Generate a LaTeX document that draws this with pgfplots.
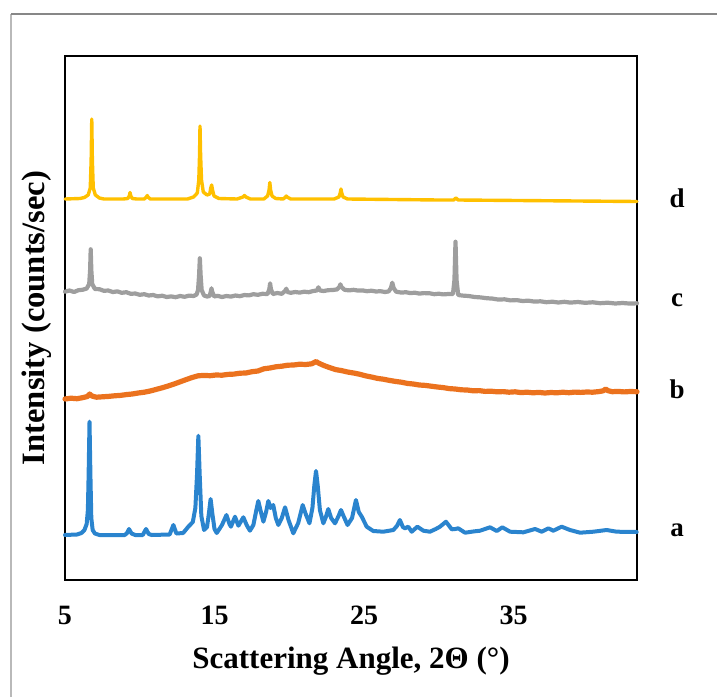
\documentclass[border=0pt]{standalone}
\usepackage{fontspec}
\setmainfont{Liberation Serif}
\usepackage{pgfplots}
\pgfplotsset{compat=1.18}
\definecolor{xyellow}{RGB}{255,192,0}
\definecolor{xgray}{RGB}{158,158,158}
\definecolor{xorange}{RGB}{235,114,30}
\definecolor{xblue}{RGB}{42,132,206}
\begin{document}
\begin{tikzpicture}
\useasboundingbox (-32.5pt,-58.5pt) rectangle (326pt,290pt);
\draw[color={rgb,255:red,185;green,185;blue,185}, line width=0.6pt] (-27pt,-58.5pt) -- (-27pt,283pt);
\draw[color={rgb,255:red,135;green,135;blue,135}, line width=1pt] (-27pt,283pt) -- (326pt,283pt);
\begin{axis}[
  at={(0,0)}, anchor=south west,
  scale only axis, width=286pt, height=262pt,
  xmin=5, xmax=43.26, ymin=0, ymax=524,
  xtick={5,15,25,35}, ytick=\empty,
  xtick style={draw=none},
  axis line style={line width=1pt},
  /pgf/number format/assume math mode=true,
  xticklabel style={font=\fontsize{14}{16}\selectfont\bfseries, anchor=base, yshift=-22pt},
  xlabel={Scattering Angle, 2Θ (°)},
  ylabel={Intensity (counts/sec)},
  xlabel style={at={(axis description cs:0.5,-0.168)}, anchor=base, font=\fontsize{15.5}{18}\selectfont\bfseries},
  ylabel style={at={(axis description cs:-0.035,0.5)}, anchor=base, font=\fontsize{16.3}{18}\selectfont\bfseries},
  clip=false,
  every axis plot/.append style={line join=round, line cap=round},
]
% a
\addplot[xblue, line width=2pt] coordinates {
(5.0,45) (5.8,45.5) (6.1,47) (6.3,50) (6.45,56) (6.53,70) (6.58,105) (6.64,158.3) (6.7,105) (6.76,62) (6.85,50) (7.0,46.5) (7.3,45)
(9.0,45) (9.15,47) (9.28,51) (9.45,46.5) (9.7,45) (10.2,45) (10.42,51) (10.6,46) (10.8,45)
(12.0,45.5) (12.25,55) (12.45,46.5) (12.9,47) (13.25,53.3) (13.55,58)
(13.72,72) (13.83,105) (13.92,144.3) (14.01,105) (14.12,64) (14.3,50) (14.5,53) (14.62,66) (14.74,81) (14.86,66) (15.0,51) (15.15,47)
(15.5,55) (15.8,65) (16.0,56) (16.1,53.3) (16.37,63.3) (16.6,54.3) (16.93,62.7) (17.15,55) (17.37,49.3)
(17.6,55) (17.8,70) (17.93,79) (18.07,70) (18.27,58.3) (18.45,68) (18.6,79) (18.75,72) (18.93,75) (19.1,62) (19.27,55)
(19.5,62) (19.72,72.7) (19.95,60) (20.27,46.7) (20.6,57) (20.9,75) (21.1,66) (21.35,56.7) (21.55,72) (21.68,95) (21.79,109)
(21.9,95) (22.05,70) (22.28,56.7) (22.45,63) (22.61,71) (22.8,62) (23.06,56.7) (23.3,64) (23.46,70) (23.6,65) (23.9,55)
(24.2,62) (24.46,80) (24.65,68) (24.85,63.3) (25.18,53.3) (25.62,49) (26.29,48.3) (26.96,50) (27.2,54) (27.4,60) (27.6,53)
(27.74,51.7) (27.96,53.3) (28.19,48.3) (28.57,53.3) (28.97,49.3) (29.41,48.3) (29.8,51) (30.08,53.3) (30.48,58.3) (30.87,50.7)
(31.1,51) (31.3,51.7) (31.76,47.3) (32.3,48.5) (32.76,49.3) (33.43,52.7) (33.88,49) (34.25,52.7) (34.77,48.3) (35.66,47.7)
(36.44,51) (36.89,48.3) (37.33,51.7) (37.66,49.3) (38.22,53.3) (38.78,50) (39.45,47.3) (40.34,48.3) (41.23,50) (41.9,48.3) (43.24,48)
};
% b
\addplot[xorange, line width=2.6pt] coordinates {
(5.0,181) (5.4,181.8) (5.8,181.3) (6.2,182.4) (6.5,183.5) (6.65,186) (6.8,184) (7.1,182.8) (7.5,183.2) (7.9,183.6) (8.3,184.2)
(8.7,184.6) (9.1,185.4) (9.5,186) (9.9,187) (10.3,187.8) (10.7,189) (11.1,190.6) (11.5,192.2) (11.9,194) (12.3,196) (12.7,198.2)
(13.1,200.4) (13.5,202.5) (13.9,204.2) (14.3,204.6) (14.7,204.3) (15.1,205.0) (15.5,204.8) (15.9,205.6) (16.3,205.9) (16.7,206.8)
(17.1,207.0) (17.5,208.3) (17.9,209.0) (18.3,211.2) (18.7,212.0) (19.1,213.2) (19.5,213.8) (19.9,214.8) (20.3,215.0) (20.7,215.8)
(21.1,215.5) (21.5,216.2) (21.8,218.5) (21.95,217) (22.3,214.6) (22.7,212.4) (23.1,210.4) (23.5,209.4) (23.9,208.0) (24.3,207.0)
(24.7,205.8) (25.1,204.2) (25.5,203.0) (25.9,201.6) (26.3,200.8) (26.7,199.6) (27.1,198.6) (27.5,197.8) (27.9,196.6) (28.3,196.0)
(28.7,195.0) (29.1,194.6) (29.5,193.8) (29.9,193.0) (30.3,192.4) (30.7,191.4) (31.1,191.0) (31.5,190.2) (31.9,190.0) (32.3,189.2)
(32.7,189.4) (33.1,188.6) (33.5,188.8) (33.9,188.2) (34.3,188.4) (34.7,187.8) (35.1,188.2) (35.5,187.4) (35.9,187.8) (36.3,187.2)
(36.7,187.6) (37.1,187.0) (37.5,187.5) (37.9,187.2) (38.3,187.8) (38.7,187.3) (39.1,187.9) (39.5,187.6) (39.9,188.0) (40.3,187.8)
(40.7,188.4) (41.0,189.2) (41.17,191) (41.3,189.4) (41.6,188.3) (42.0,188.6) (42.4,188.1) (42.8,188.5) (43.26,188.3)
};
% c
\addplot[xgray, line width=2.1pt] coordinates {
(5.0,288.3) (5.3,289.5) (5.6,288.0) (5.9,289.8) (6.2,290.3) (6.45,291.5) (6.62,296) (6.68,310) (6.72,330.7) (6.76,310) (6.82,296)
(7.0,291) (7.3,290.8) (7.6,289.2) (7.9,289.5) (8.2,288.0) (8.5,288.6) (8.8,287.2) (9.1,287.8) (9.4,286.2) (9.7,286.5) (10.0,285.2)
(10.3,285.8) (10.6,284.5) (10.9,285.0) (11.2,283.6) (11.5,284.3) (11.8,283.0) (12.1,283.6) (12.4,282.8) (12.7,284.0) (13.0,283.2)
(13.3,284.4) (13.6,284.0) (13.8,285.5) (13.9,290) (13.97,305) (14.02,321.7) (14.07,305) (14.14,290) (14.3,284.5) (14.5,283.5)
(14.68,284) (14.76,289) (14.8,291.7) (14.85,288) (14.98,283.5) (15.2,284.2) (15.5,283.0) (15.8,284.0) (16.1,283.4) (16.4,284.5)
(16.7,283.8) (17.0,285.0) (17.3,284.6) (17.6,285.8) (17.9,285.2) (18.2,286.2) (18.55,286.0) (18.67,291) (18.72,296.7) (18.77,291)
(18.9,286) (19.2,287) (19.5,286.2) (19.72,289) (19.8,291.3) (19.88,288) (20.1,287.2) (20.4,288.0) (20.7,287.4) (21.0,288.3)
(21.3,287.8) (21.6,289.0) (21.85,289.5) (21.95,292.7) (22.05,289.5) (22.3,289.0) (22.6,289.8) (22.9,290.0) (23.2,290.6) (23.35,293)
(23.42,295.7) (23.49,293) (23.7,290.2) (24.0,289.6) (24.3,290.2) (24.6,289.4) (24.9,289.6) (25.2,288.8) (25.5,289.3) (25.8,288.5)
(26.1,288.8) (26.4,288.0) (26.65,288.6) (26.8,292) (26.89,297.3) (26.98,292) (27.15,288.3) (27.5,287.4) (27.8,287.8) (28.1,286.9)
(28.4,287.3) (28.7,286.4) (29.0,286.9) (29.4,286.7) (29.7,285.8) (30.0,286.3) (30.3,285.6) (30.65,286.0) (30.95,286.0) (31.05,300)
(31.12,338.3) (31.19,300) (31.3,285) (31.6,284.4) (32.0,284.0) (32.4,283.0) (32.8,282.6) (33.2,281.8) (33.6,281.4) (34.0,280.4)
(34.4,280.7) (34.8,279.6) (35.2,279.9) (35.6,279.0) (36.0,279.3) (36.4,278.4) (36.8,278.7) (37.2,277.8) (37.6,278.3) (38.0,277.5)
(38.4,278.2) (38.8,277.4) (39.3,278.0) (39.8,277.2) (40.3,277.7) (40.8,276.8) (41.3,277.3) (41.8,276.5) (42.3,277.0) (42.8,276.4) (43.26,276.7)
};
% d
\addplot[xyellow, line width=1.7pt] coordinates {
(5.0,381) (6.0,381.5) (6.3,382.5) (6.55,385) (6.69,392) (6.75,420) (6.79,461) (6.83,420) (6.89,392) (7.03,385) (7.3,382) (7.6,381)
(8.9,381) (9.2,381.5) (9.3,384) (9.35,387.5) (9.4,384) (9.5,381.5) (9.8,381)
(10.3,381) (10.45,383) (10.5,384.5) (10.55,383) (10.7,381)
(13.2,381) (13.6,383) (13.85,387) (13.95,400) (14.0,425) (14.03,454) (14.07,425) (14.13,400) (14.25,388) (14.5,385)
(14.68,386) (14.75,392) (14.81,395) (14.87,390) (14.97,384) (15.3,381.5) (16.5,381) (16.9,383) (17.0,384.5) (17.1,383) (17.4,381)
(18.3,381) (18.55,384) (18.65,390) (18.7,397.5) (18.75,390) (18.85,384) (19.1,381.5) (19.6,381) (19.75,383) (19.8,384) (19.85,383)
(20.1,381) (23.0,381) (23.32,383) (23.41,387) (23.46,391) (23.51,387) (23.6,383) (23.9,381) (30.0,380) (31.0,380) (31.15,382)
(31.3,380) (43.26,378.5)
};
\node[anchor=base, font=\fontsize{13.5}{15}\selectfont\bfseries] at (axis cs:45.94,372.7) {d};
\node[anchor=base, font=\fontsize{13.5}{15}\selectfont\bfseries] at (axis cs:45.94,273.3) {c};
\node[anchor=base, font=\fontsize{13.5}{15}\selectfont\bfseries] at (axis cs:45.94,181.7) {b};
\node[anchor=base, font=\fontsize{13.5}{15}\selectfont\bfseries] at (axis cs:45.94,43.3) {a};
\end{axis}
\end{tikzpicture}
\end{document}
